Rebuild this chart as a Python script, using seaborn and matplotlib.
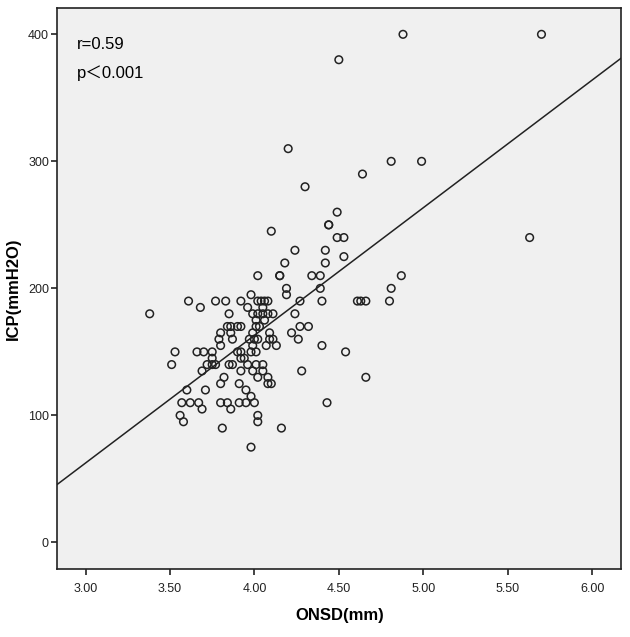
import numpy as np
import pandas as pd
import seaborn as sns
import matplotlib.pyplot as plt

# values (ONSD in mm, ICP in mmH2O)
onsd = [4.88, 5.70, 4.50, 4.20, 4.81, 4.99, 4.64, 4.30, 4.49, 4.44, 4.44, 4.10, 4.49, 4.53, 5.63,
        4.24, 4.42, 4.53, 4.18, 4.42, 4.02, 4.15, 4.15, 4.34, 4.39, 4.87, 4.19, 4.39, 4.81, 4.19,
        3.61, 3.77, 3.83, 3.92, 4.02, 4.04, 4.06, 4.08, 4.27, 4.40, 4.61, 4.63, 4.66, 4.80,
        3.68, 3.96, 4.05, 3.98,
        3.38, 3.85, 3.99, 4.02, 4.05, 4.08, 4.11, 4.24,
        4.01, 4.06,
        3.84, 3.86, 3.90, 3.92, 4.01, 4.03, 4.27, 4.32,
        3.80, 3.86, 4.09, 4.22, 3.99,
        3.79, 3.87, 3.97, 4.00, 4.02, 4.09, 4.11, 4.26,
        3.80, 3.99, 4.07, 4.13, 4.40,
        3.53, 3.66, 3.70, 3.75, 3.90, 3.92, 3.98, 4.01, 4.54,
        3.75, 3.92, 3.94,
        3.51, 3.72, 3.75, 3.77, 3.85, 3.87, 3.96, 4.01, 4.05,
        3.69, 3.92, 3.99, 4.05, 4.28,
        3.82, 4.02, 4.08, 4.66,
        3.80, 3.91, 4.08, 4.10,
        3.60, 3.71, 3.95,
        3.98,
        3.57, 3.62, 3.67, 3.80, 3.84, 3.91, 3.95, 4.00, 4.43,
        3.69, 3.86,
        3.56, 4.02,
        3.58, 4.02,
        3.81, 4.16,
        3.98]
icp = [400, 400, 380, 310, 300, 300, 290, 280, 260, 250, 250, 245, 240, 240, 240,
       230, 230, 225, 220, 220, 210, 210, 210, 210, 210, 210, 200, 200, 200, 195,
       190, 190, 190, 190, 190, 190, 190, 190, 190, 190, 190, 190, 190, 190,
       185, 185, 185, 195,
       180, 180, 180, 180, 180, 180, 180, 180,
       175, 175,
       170, 170, 170, 170, 170, 170, 170, 170,
       165, 165, 165, 165, 165,
       160, 160, 160, 160, 160, 160, 160, 160,
       155, 155, 155, 155, 155,
       150, 150, 150, 150, 150, 150, 150, 150, 150,
       145, 145, 145,
       140, 140, 140, 140, 140, 140, 140, 140, 140,
       135, 135, 135, 135, 135,
       130, 130, 130, 130,
       125, 125, 125, 125,
       120, 120, 120,
       115,
       110, 110, 110, 110, 110, 110, 110, 110, 110,
       105, 105,
       100, 100,
       95, 95,
       90, 90,
       75]

x_ticks = [3.0, 3.5, 4.0, 4.5, 5.0, 5.5, 6.0]
y_ticks = [0, 100, 200, 300, 400]
r_text = "r=0.59"
p_text = "p\uff1c0.001"

df = pd.DataFrame({"ONSD": onsd, "ICP": icp})

plt.rcParams['font.family'] = ['Liberation Sans Narrow', 'Liberation Sans', 'Noto Sans CJK SC']

fig = plt.figure(figsize=(6.3, 6.37), dpi=100)
ax = fig.add_axes([0.091, 0.106, 0.895, 0.881])
ax.set_facecolor('#f0f0f0')

ax.set_xlim(2.833, 6.172)
ax.set_ylim(-21.3, 420.5)

sns.scatterplot(x="ONSD", y="ICP", data=df, ax=ax, marker='o', s=30,
                facecolor='none', edgecolor='#222222', linewidth=1.1)
sns.regplot(x="ONSD", y="ICP", data=df, ax=ax, scatter=False, ci=None,
            truncate=False, line_kws={'color': '#222222', 'linewidth': 1.1})

ax.set_xlim(2.833, 6.172)
ax.set_ylim(-21.3, 420.5)
ax.set_xticks(x_ticks)
ax.set_xticklabels([f"{v:.2f}" for v in x_ticks])
ax.set_yticks(y_ticks)
ax.set_yticklabels([str(v) for v in y_ticks])
ax.tick_params(direction='out', length=4, width=1.2, pad=2, labelsize=9, colors='#222222')
ax.tick_params(axis='x', pad=6)

for s in ax.spines.values():
    s.set_color('#222222')
    s.set_linewidth(1.2)

ax.set_xlabel("ONSD(mm)", fontsize=12, fontweight='bold', labelpad=9)
ax.set_ylabel("ICP(mmH2O)", fontsize=12, fontweight='bold', labelpad=5)

ax.text(0.035, 0.936, r_text, transform=ax.transAxes, fontsize=12, va='center', ha='left')
ax.text(0.035, 0.884, p_text, transform=ax.transAxes, fontsize=12, va='center', ha='left')

fig.savefig("out.png", dpi=100)
